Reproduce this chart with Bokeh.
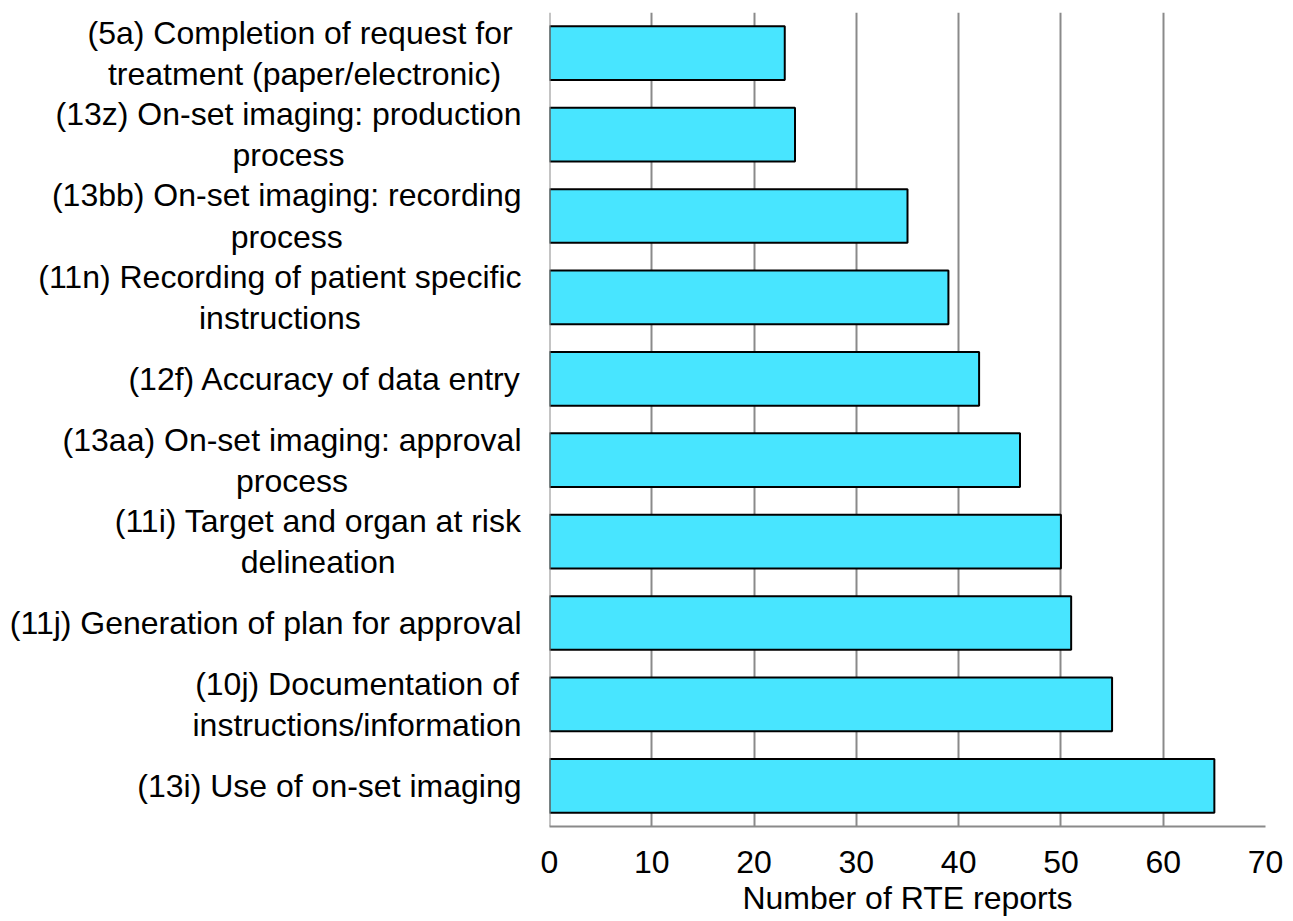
from bokeh.plotting import figure
from bokeh.layouts import row
from bokeh.models import FactorRange, Range1d, ColumnDataSource, FixedTicker, Span
from bokeh.core.properties import value
from bokeh.embed import file_html
from bokeh.resources import INLINE

# Process-step categories (top to bottom) and number of RTE reports
categories = [
    "(5a) Completion of request for \ntreatment (paper/electronic)",
    "(13z) On-set imaging: production\nprocess",
    "(13bb) On-set imaging: recording\nprocess",
    "(11n) Recording of patient specific\ninstructions",
    "(12f) Accuracy of data entry",
    "(13aa) On-set imaging: approval\nprocess",
    "(11i) Target and organ at risk\ndelineation",
    "(11j) Generation of plan for approval",
    "(10j) Documentation of\ninstructions/information",
    "(13i) Use of on-set imaging",
]
reports = [23, 24, 35, 39, 42, 46, 50, 51, 55, 65]
x_ticks = [0, 10, 20, 30, 40, 50, 60, 70]
x_title = "Number of RTE reports"

FONT = "Liberation Sans"
FS = "32px"
TOP, BOTTOM = 12, 95
H = 921
LABEL_W = 529
GAP = 20
FRAME_W = 716
RIGHT_PAD = 28
GRID = "#8a8a8a"

y_range = FactorRange(factors=categories[::-1], range_padding=0)
source = ColumnDataSource(dict(cat=categories, val=reports))

# Left panel: category labels, each block right-aligned next to the axis
lab = figure(width=LABEL_W, height=H, x_range=Range1d(0, LABEL_W), y_range=y_range,
             output_backend="svg", toolbar_location=None,
             min_border_left=0, min_border_right=0,
             min_border_top=TOP, min_border_bottom=BOTTOM)
lab.axis.visible = False
lab.grid.visible = False
lab.outline_line_color = None
lab.text(x=LABEL_W - 8, y="cat", text="cat", source=source,
         anchor="center_right", text_align="center", text_baseline="middle",
         text_font=value(FONT), text_font_size=FS, text_color="black",
         text_line_height=1.15)

# Right panel: the bar chart itself
p = figure(width=GAP + FRAME_W + RIGHT_PAD, height=H, x_range=Range1d(0, 70), y_range=y_range,
           output_backend="svg", toolbar_location=None,
           min_border_left=GAP, min_border_right=RIGHT_PAD,
           min_border_top=TOP, min_border_bottom=BOTTOM)
p.hbar(y="cat", right="val", left=0, height=0.66, source=source,
       fill_color="#48E5FF", line_color="black", line_width=2)

p.outline_line_color = None
p.yaxis.visible = False
p.ygrid.visible = False
p.xgrid.ticker = FixedTicker(ticks=x_ticks)
p.xgrid.grid_line_color = GRID
p.xgrid.grid_line_width = 2

# Left boundary line of the plotting area
p.add_layout(Span(location=0, dimension="height", line_color=GRID, line_width=2))

ax = p.xaxis[0]
ax.ticker = FixedTicker(ticks=x_ticks)
ax.axis_line_color = GRID
ax.axis_line_width = 2
ax.major_tick_line_color = None
ax.minor_tick_line_color = None
ax.major_label_text_font = FONT
ax.major_label_text_font_size = FS
ax.major_label_text_color = "black"
ax.major_label_standoff = 18
ax.axis_label = x_title
ax.axis_label_text_font = FONT
ax.axis_label_text_font_size = FS
ax.axis_label_text_font_style = "normal"
ax.axis_label_text_color = "black"
ax.axis_label_text_baseline = "middle"
ax.axis_label_standoff = 4

layout = row(lab, p, spacing=0)
open("out.html", "w").write(file_html(layout, INLINE))
